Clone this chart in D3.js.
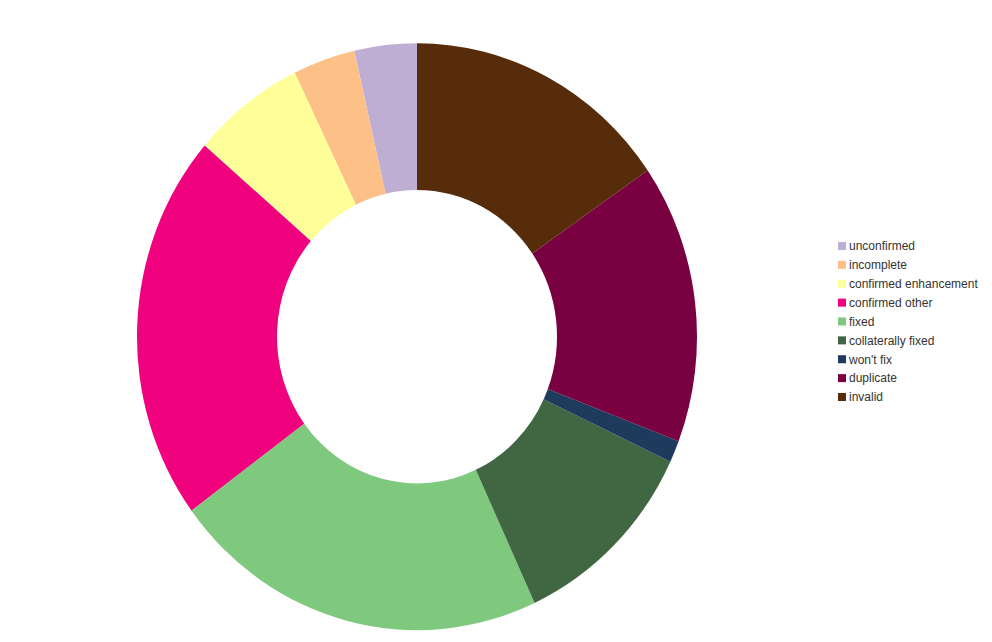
<!DOCTYPE html>
<html>
<head>
<meta charset="utf-8">
<script src="https://cdn.jsdelivr.net/npm/d3@7"></script>
<style>
  html, body { margin: 0; padding: 0; background: #fff; }
  svg { display: block; }
</style>
</head>
<body>
<svg id="chart" width="992" height="642"></svg>
<script>
const categories = ["unconfirmed", "incomplete", "confirmed enhancement", "confirmed other",
  "fixed", "collaterally fixed", "won't fix", "duplicate", "invalid"];
const values = [36, 36, 65, 214, 218, 111, 12, 154, 154];
const colors = ["#beaed4", "#fdc086", "#ffff99", "#f0027f", "#7fc97f",
  "#406642", "#1e3a5c", "#790041", "#562c0b"];

const svg = d3.select("#chart");
const data = categories.map((c, i) => ({ name: c, value: values[i], color: colors[i] }));

const cx = 417, cy = 336.7, rOuter = 280, rInner = 140, sy = 1.048;

const pie = d3.pie().value(d => d.value).sort(null)
  .startAngle(0).endAngle(-2 * Math.PI);
const arc = d3.arc().innerRadius(rInner).outerRadius(rOuter);

svg.append("g")
  .attr("transform", `translate(${cx},${cy}) scale(1,${sy})`)
  .selectAll("path")
  .data(pie(data))
  .join("path")
  .attr("d", arc)
  .attr("fill", d => d.data.color);

const legendY = d3.scalePoint().domain(categories).range([242, 393]);
const lg = svg.append("g");
const rows = lg.selectAll("g").data(data).join("g")
  .attr("transform", d => `translate(838,${legendY(d.name)})`);
rows.append("rect").attr("width", 8).attr("height", 8).attr("fill", d => d.color);
rows.append("text")
  .attr("x", 11).attr("y", 8.3)
  .attr("font-family", "Liberation Sans, Arial, sans-serif")
  .attr("font-size", 12)
  .attr("fill", "#333")
  .text(d => d.name);
</script>
</body>
</html>
